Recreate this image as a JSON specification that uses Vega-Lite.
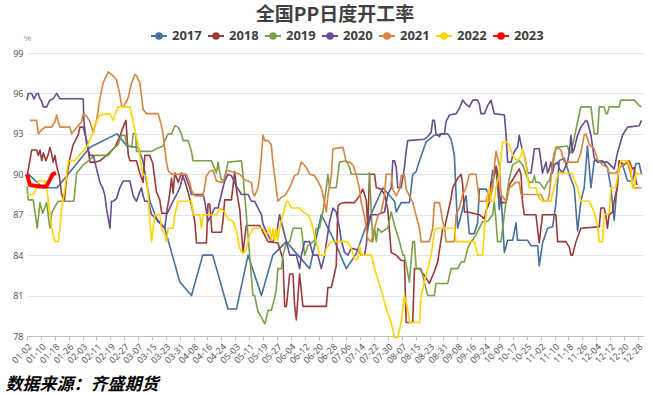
{
"$schema":"https://vega.github.io/schema/vega-lite/v6.json",
"width":616,"height":283,
"autosize":{"type":"none"},
"padding":{"left":27,"top":53,"right":9,"bottom":59},
"background":"white",
"title":{"text":"全国PP日度开工率","fontSize":19,"font":"Noto Sans CJK SC","fontWeight":"bold","color":"#404040","anchor":"middle","frame":"group","offset":2},
"datasets":{
"s2017":[{"x":0,"v":90.1},{"x":9.2,"v":89},{"x":17.3,"v":89},{"x":36.3,"v":92},{"x":51.8,"v":93},{"x":57.6,"v":92.1},{"x":63.9,"v":92},{"x":66.8,"v":91},{"x":70.8,"v":88},{"x":75.4,"v":86.5},{"x":79.4,"v":86},{"x":88.1,"v":82},{"x":94.8,"v":81},{"x":101.3,"v":84},{"x":107,"v":84},{"x":115.8,"v":80},{"x":120.7,"v":80},{"x":127.4,"v":84},{"x":135.1,"v":81},{"x":141.7,"v":84},{"x":149.5,"v":85},{"x":156.1,"v":84},{"x":162.9,"v":83},{"x":169.6,"v":87},{"x":175.4,"v":85.5},{"x":177.3,"v":85},{"x":184,"v":83},{"x":189.7,"v":84.1},{"x":196.4,"v":86.5},{"x":205.1,"v":89},{"x":211.8,"v":88},{"x":212.8,"v":87.2},{"x":215.6,"v":87.9},{"x":220.4,"v":87.9},{"x":222.3,"v":90},{"x":224.3,"v":90.2},{"x":226.2,"v":91},{"x":230,"v":92.4},{"x":234.8,"v":92.9},{"x":239.6,"v":93},{"x":242.5,"v":93},{"x":244.4,"v":92.6},{"x":246.3,"v":91.4},{"x":247.3,"v":88.4},{"x":248.2,"v":86},{"x":250.2,"v":87},{"x":252.1,"v":88},{"x":253,"v":88.4},{"x":254.9,"v":85.6},{"x":257.8,"v":85.6},{"x":259.7,"v":86.4},{"x":260.7,"v":88.9},{"x":264.6,"v":88.9},{"x":266.5,"v":88.4},{"x":268.4,"v":90.3},{"x":269.3,"v":89.9},{"x":270.3,"v":90.6},{"x":272.2,"v":87.4},{"x":273.2,"v":88.4},{"x":275.1,"v":84.2},{"x":277,"v":85.1},{"x":279.9,"v":85.1},{"x":281.8,"v":86.4},{"x":282.7,"v":85.1},{"x":288.5,"v":85.1},{"x":290.5,"v":84.7},{"x":294.3,"v":84.7},{"x":295.2,"v":83.2},{"x":297.1,"v":84.9},{"x":300,"v":86},{"x":302.9,"v":86.1},{"x":304.8,"v":87.8},{"x":306.7,"v":91},{"x":309.6,"v":91.2},{"x":312.5,"v":90},{"x":315.4,"v":89},{"x":317.3,"v":85.8},{"x":319.2,"v":88},{"x":321.1,"v":89},{"x":323,"v":92.1},{"x":325,"v":89},{"x":326.9,"v":91},{"x":331.7,"v":91},{"x":334.5,"v":90.5},{"x":336.5,"v":89},{"x":338.4,"v":86.6},{"x":341.3,"v":91},{"x":343.2,"v":90.7},{"x":346.1,"v":89.5},{"x":348.9,"v":89.5},{"x":350.9,"v":90.8},{"x":352.8,"v":90.8},{"x":354.1,"v":90}],
"s2018":[{"x":0,"v":89.8},{"x":2.7,"v":91.8},{"x":5.6,"v":91.8},{"x":6.5,"v":91.4},{"x":7.5,"v":91.8},{"x":8.5,"v":91},{"x":9.4,"v":91.6},{"x":10.9,"v":91},{"x":12.3,"v":91.5},{"x":13.2,"v":92},{"x":14.2,"v":91.5},{"x":15.1,"v":90.9},{"x":16.1,"v":91.4},{"x":17.1,"v":90.6},{"x":18.6,"v":89.9},{"x":20,"v":88.5},{"x":21.5,"v":88},{"x":22.8,"v":89.7},{"x":24.7,"v":91.2},{"x":26.6,"v":92.2},{"x":29.5,"v":92.9},{"x":30.5,"v":93.5},{"x":32.4,"v":93.5},{"x":34.4,"v":92.5},{"x":36.3,"v":90.9},{"x":39.1,"v":90.9},{"x":42,"v":91},{"x":45.9,"v":91.4},{"x":50.6,"v":92},{"x":53.5,"v":92.8},{"x":55.4,"v":93.5},{"x":57,"v":94},{"x":57.6,"v":92.9},{"x":58.3,"v":91.5},{"x":59.3,"v":91},{"x":63.1,"v":91},{"x":65,"v":90.1},{"x":66.9,"v":89.4},{"x":67.9,"v":91.4},{"x":70.8,"v":91.4},{"x":72.5,"v":90.8},{"x":74.6,"v":88.7},{"x":76.5,"v":88.1},{"x":77.7,"v":87.1},{"x":80.4,"v":87.1},{"x":82.3,"v":88.6},{"x":83.3,"v":89.7},{"x":84.2,"v":88.6},{"x":85.2,"v":90.1},{"x":87.1,"v":89.4},{"x":89,"v":90.1},{"x":90.9,"v":89.5},{"x":92.8,"v":88.7},{"x":94.8,"v":87.7},{"x":96.7,"v":86.5},{"x":97.7,"v":84.9},{"x":103.4,"v":84.9},{"x":104.3,"v":87.8},{"x":105.3,"v":87.8},{"x":106.6,"v":85.7},{"x":112,"v":85.7},{"x":113,"v":86.6},{"x":113.9,"v":88.1},{"x":117.8,"v":88.1},{"x":119.7,"v":90.2},{"x":121,"v":88.6},{"x":122.6,"v":87.4},{"x":123.6,"v":85.7},{"x":124.5,"v":84.2},{"x":126.4,"v":86.2},{"x":134.1,"v":86.2},{"x":136,"v":85.7},{"x":138.9,"v":85},{"x":144.6,"v":84.9},{"x":147.5,"v":83.7},{"x":148.5,"v":80.2},{"x":149.5,"v":80.2},{"x":151.4,"v":82.6},{"x":153.3,"v":82.6},{"x":154.2,"v":80.3},{"x":155.2,"v":79.2},{"x":157.1,"v":82.6},{"x":159,"v":80.2},{"x":172.5,"v":80.2},{"x":173.4,"v":81.6},{"x":175.4,"v":81.6},{"x":178.2,"v":83.2},{"x":179.2,"v":87.6},{"x":180.1,"v":87.8},{"x":183,"v":87.9},{"x":188.8,"v":87.9},{"x":191.6,"v":88.4},{"x":193.5,"v":88.9},{"x":195.5,"v":88.1},{"x":196.4,"v":86.1},{"x":197.4,"v":90},{"x":200.3,"v":90},{"x":201.3,"v":89},{"x":204.1,"v":88.9},{"x":206,"v":88.5},{"x":207.9,"v":87.4},{"x":209.9,"v":84.2},{"x":212.8,"v":84},{"x":215.6,"v":83.6},{"x":217.5,"v":83.6},{"x":218.5,"v":79},{"x":222.3,"v":79},{"x":223.3,"v":83},{"x":226.2,"v":83},{"x":229,"v":82.5},{"x":231.9,"v":81.9},{"x":234.8,"v":82.8},{"x":236.7,"v":83.5},{"x":239.6,"v":86},{"x":240.6,"v":86},{"x":244.4,"v":88.2},{"x":245.3,"v":89},{"x":248.2,"v":89.7},{"x":250.2,"v":90},{"x":251.1,"v":89.2},{"x":252.1,"v":87.2},{"x":254,"v":87.2},{"x":260.7,"v":87},{"x":263.6,"v":86.7},{"x":264.6,"v":87.3},{"x":266.5,"v":87.9},{"x":267.4,"v":89.4},{"x":268.4,"v":89.4},{"x":270.3,"v":90.6},{"x":271.2,"v":90.1},{"x":272.2,"v":88.4},{"x":273.2,"v":87.9},{"x":276.1,"v":87.9},{"x":278,"v":89.2},{"x":281.8,"v":90},{"x":283.7,"v":90.4},{"x":284.7,"v":90},{"x":285.6,"v":87.9},{"x":286.6,"v":87},{"x":293.3,"v":87},{"x":295.2,"v":84.9},{"x":297.1,"v":87},{"x":304.8,"v":87},{"x":305.8,"v":85},{"x":310.6,"v":85},{"x":312.5,"v":84.6},{"x":313.5,"v":84},{"x":314.4,"v":84},{"x":316.4,"v":85},{"x":319.2,"v":86},{"x":329.8,"v":86.1},{"x":330.7,"v":87.5},{"x":332.6,"v":87.5},{"x":333.6,"v":87},{"x":334.5,"v":86},{"x":335.5,"v":87},{"x":337.4,"v":87.2},{"x":338.4,"v":88},{"x":340.3,"v":89.1},{"x":341.3,"v":91},{"x":344.1,"v":90.7},{"x":347,"v":91},{"x":348.9,"v":90.4},{"x":349.9,"v":90.5},{"x":350.9,"v":89.5},{"x":351.6,"v":89.2}],
"s2019":[{"x":0,"v":89.1},{"x":0.7,"v":88.1},{"x":3.6,"v":88.1},{"x":5.9,"v":86},{"x":7.5,"v":87.9},{"x":9,"v":87.1},{"x":11.3,"v":87.9},{"x":13.2,"v":86},{"x":14.2,"v":87.1},{"x":16.1,"v":87.6},{"x":18,"v":88},{"x":27,"v":88},{"x":28.6,"v":90.1},{"x":32.4,"v":90.7},{"x":34.4,"v":90.9},{"x":39.1,"v":91.4},{"x":46.8,"v":91.4},{"x":49.7,"v":91.9},{"x":52.5,"v":92.2},{"x":54.5,"v":92.9},{"x":56.4,"v":92.9},{"x":57.4,"v":92.2},{"x":60.3,"v":92},{"x":61.2,"v":93},{"x":62.6,"v":93},{"x":63.1,"v":91.7},{"x":71.8,"v":91.7},{"x":74.6,"v":91.9},{"x":78.4,"v":92.1},{"x":79.4,"v":92.5},{"x":81.3,"v":93},{"x":83.3,"v":93},{"x":85.2,"v":93.6},{"x":87.1,"v":93.5},{"x":89,"v":93},{"x":90,"v":92.5},{"x":92.8,"v":92.5},{"x":94.8,"v":91.7},{"x":95.7,"v":91},{"x":106.3,"v":91},{"x":108.2,"v":90.4},{"x":109.2,"v":90.1},{"x":110.1,"v":90.9},{"x":111.1,"v":90.1},{"x":112,"v":89.6},{"x":113.9,"v":89.6},{"x":115.8,"v":90.9},{"x":123.6,"v":91},{"x":124.5,"v":89.9},{"x":126.4,"v":87},{"x":128.3,"v":84},{"x":130.2,"v":81},{"x":131.2,"v":81},{"x":133.1,"v":79.8},{"x":135.1,"v":79.4},{"x":137,"v":78.9},{"x":137.9,"v":79.3},{"x":138.9,"v":79.9},{"x":140.8,"v":79.9},{"x":142.7,"v":80.8},{"x":143.7,"v":81.5},{"x":144.6,"v":83},{"x":146.6,"v":83},{"x":147.5,"v":84},{"x":149.5,"v":84.9},{"x":151.4,"v":85},{"x":153.3,"v":86},{"x":158.1,"v":86},{"x":159,"v":85},{"x":160,"v":84},{"x":161.9,"v":84.7},{"x":165.7,"v":85.1},{"x":166.7,"v":86},{"x":168.6,"v":86},{"x":170.5,"v":87.2},{"x":172.5,"v":89},{"x":173.4,"v":90},{"x":174.4,"v":89},{"x":178.2,"v":89},{"x":180.1,"v":90.9},{"x":184,"v":91},{"x":184.9,"v":90.8},{"x":185.9,"v":90.5},{"x":186.9,"v":90},{"x":196.4,"v":90},{"x":197.4,"v":90.1},{"x":198.4,"v":87.2},{"x":199.3,"v":85},{"x":200.3,"v":86},{"x":201.3,"v":85},{"x":202.2,"v":86},{"x":204.1,"v":85.7},{"x":207.9,"v":86},{"x":209.9,"v":87.2},{"x":211.8,"v":86.2},{"x":214.7,"v":85},{"x":216.6,"v":84},{"x":217.5,"v":84},{"x":220.4,"v":82},{"x":222.3,"v":85},{"x":223.3,"v":85},{"x":224.3,"v":83},{"x":227.1,"v":83},{"x":229,"v":82},{"x":230.9,"v":81},{"x":234.8,"v":81},{"x":235.7,"v":81.9},{"x":242.5,"v":81.9},{"x":244.4,"v":83},{"x":248.2,"v":83},{"x":250.2,"v":83.5},{"x":252.1,"v":83.5},{"x":254,"v":84.5},{"x":255.9,"v":85},{"x":258.8,"v":85.5},{"x":260.7,"v":86},{"x":262.6,"v":86.5},{"x":265.5,"v":86.5},{"x":268.4,"v":87},{"x":269.3,"v":88},{"x":270.3,"v":86.5},{"x":271.2,"v":85},{"x":273.2,"v":85},{"x":275.1,"v":87},{"x":277,"v":88.9},{"x":278,"v":89.7},{"x":279.9,"v":90.7},{"x":283.7,"v":91},{"x":285.6,"v":90.7},{"x":287.6,"v":90},{"x":289.5,"v":89.4},{"x":291.4,"v":89.4},{"x":292.4,"v":89.9},{"x":293.3,"v":89.4},{"x":295.2,"v":89.4},{"x":298.1,"v":88.9},{"x":300,"v":89.4},{"x":301,"v":89.5},{"x":302.9,"v":90.5},{"x":304.8,"v":92},{"x":311.5,"v":92.1},{"x":312.5,"v":91.6},{"x":313.5,"v":91.6},{"x":315.4,"v":92.7},{"x":317.3,"v":93.9},{"x":319.2,"v":95},{"x":325,"v":95},{"x":326.9,"v":93},{"x":328.8,"v":93},{"x":329.8,"v":95},{"x":332.6,"v":95},{"x":333.6,"v":94.5},{"x":334.5,"v":94.5},{"x":335.5,"v":95},{"x":341.3,"v":95},{"x":342.2,"v":95.5},{"x":349.9,"v":95.5},{"x":352.8,"v":95.1},{"x":354.1,"v":95}],
"s2020":[{"x":0,"v":95.5},{"x":0.7,"v":96},{"x":2.7,"v":96},{"x":4,"v":95.6},{"x":5.6,"v":96},{"x":6.5,"v":96},{"x":7.5,"v":95.6},{"x":8.5,"v":95.4},{"x":9.4,"v":95},{"x":11.3,"v":95},{"x":13.2,"v":95.5},{"x":15.1,"v":95.6},{"x":17.1,"v":96},{"x":19,"v":95.6},{"x":31.5,"v":95.6},{"x":32.4,"v":95.6},{"x":32.8,"v":93.9},{"x":34.4,"v":92.2},{"x":36.3,"v":91.4},{"x":38.2,"v":91.4},{"x":40.1,"v":90.4},{"x":42,"v":89.4},{"x":43.9,"v":88.9},{"x":44.9,"v":88.4},{"x":45.9,"v":87.4},{"x":47.8,"v":86},{"x":48.7,"v":88},{"x":49.7,"v":88},{"x":51.6,"v":88.2},{"x":53.5,"v":89},{"x":55.4,"v":89.5},{"x":59.3,"v":89.5},{"x":61.2,"v":88.4},{"x":63.1,"v":88},{"x":65,"v":88.7},{"x":66,"v":89},{"x":66.9,"v":88.4},{"x":67.9,"v":88},{"x":69.8,"v":88},{"x":71.8,"v":87},{"x":73.7,"v":86.8},{"x":77.5,"v":86.3},{"x":79.4,"v":86},{"x":80.4,"v":87},{"x":82.3,"v":87.5},{"x":84.2,"v":88},{"x":86.2,"v":88.5},{"x":88.1,"v":89},{"x":90,"v":90},{"x":90.9,"v":90},{"x":93.8,"v":89},{"x":94.8,"v":88.5},{"x":101.5,"v":88.5},{"x":102.4,"v":88},{"x":104.3,"v":86.5},{"x":106.3,"v":87},{"x":108.2,"v":87.5},{"x":110.1,"v":87.5},{"x":112,"v":88.5},{"x":113.9,"v":89.5},{"x":115.8,"v":90},{"x":117.8,"v":89.9},{"x":120.7,"v":89.1},{"x":123.6,"v":88.5},{"x":127.4,"v":88.5},{"x":129.3,"v":88},{"x":131.2,"v":88},{"x":133.1,"v":87.5},{"x":135.1,"v":87},{"x":136,"v":86.3},{"x":138.9,"v":85.5},{"x":140.8,"v":85},{"x":141.7,"v":85},{"x":143.7,"v":85.5},{"x":145.6,"v":87},{"x":147.5,"v":86},{"x":149.5,"v":85},{"x":151.4,"v":84},{"x":155.2,"v":84},{"x":157.1,"v":83},{"x":158.1,"v":84},{"x":160,"v":85},{"x":162.9,"v":85},{"x":164.8,"v":84},{"x":167.6,"v":84},{"x":169.6,"v":83},{"x":171.5,"v":84},{"x":174.4,"v":86.5},{"x":176.3,"v":87.5},{"x":178.2,"v":87.2},{"x":180.1,"v":86},{"x":181.1,"v":85.1},{"x":183,"v":84.2},{"x":184.9,"v":84},{"x":186.9,"v":84.5},{"x":190.7,"v":84.4},{"x":192.6,"v":84},{"x":194.5,"v":84},{"x":195.5,"v":84.7},{"x":196.4,"v":86},{"x":198.4,"v":87},{"x":202.2,"v":87},{"x":206,"v":87.2},{"x":207.9,"v":88.5},{"x":209.9,"v":89},{"x":210.8,"v":91},{"x":211.8,"v":91},{"x":212.8,"v":90.5},{"x":213.7,"v":89},{"x":215.6,"v":89},{"x":217.5,"v":90.5},{"x":218.5,"v":91.7},{"x":219.4,"v":92.5},{"x":229,"v":92.6},{"x":230.9,"v":92.8},{"x":232.9,"v":93.1},{"x":233.8,"v":94},{"x":234.8,"v":94},{"x":235.7,"v":93},{"x":237.7,"v":92.8},{"x":238.7,"v":93},{"x":240.6,"v":93},{"x":241.5,"v":93.9},{"x":243.5,"v":94.4},{"x":247.3,"v":94.5},{"x":249.2,"v":94.9},{"x":251.1,"v":95.5},{"x":253,"v":95.2},{"x":254.9,"v":95},{"x":256.9,"v":95.5},{"x":259.7,"v":95.5},{"x":260.7,"v":95.2},{"x":261.6,"v":94.5},{"x":263.6,"v":94.5},{"x":265.5,"v":95.1},{"x":267.4,"v":95.5},{"x":269.3,"v":94.5},{"x":275.1,"v":94.4},{"x":276.1,"v":92.9},{"x":277,"v":90.9},{"x":279,"v":90.9},{"x":279.9,"v":91.4},{"x":281.8,"v":91.9},{"x":282.7,"v":92},{"x":283.7,"v":92.9},{"x":284.7,"v":92.2},{"x":286.6,"v":91.4},{"x":288.5,"v":90.1},{"x":290.5,"v":90.1},{"x":292.4,"v":91.9},{"x":295.2,"v":91.9},{"x":297.1,"v":90.1},{"x":299.1,"v":90.9},{"x":300,"v":90.1},{"x":301,"v":90.4},{"x":301.9,"v":90.9},{"x":302.9,"v":90.1},{"x":303.8,"v":90.7},{"x":305.8,"v":90.9},{"x":306.7,"v":90.4},{"x":308.7,"v":90.1},{"x":311.5,"v":90.9},{"x":312.5,"v":91.6},{"x":313.5,"v":92.9},{"x":314.4,"v":91.6},{"x":315.4,"v":91.9},{"x":317.3,"v":92.9},{"x":319.2,"v":93.5},{"x":322.1,"v":94},{"x":323,"v":93.9},{"x":325,"v":92.9},{"x":326.9,"v":91.2},{"x":328.8,"v":90.9},{"x":334.5,"v":90.9},{"x":338.4,"v":90.4},{"x":340.3,"v":91.6},{"x":343.2,"v":92.9},{"x":346.1,"v":93.5},{"x":352.8,"v":93.6},{"x":354.1,"v":94}],
"s2021":[{"x":1.7,"v":94},{"x":5.6,"v":94},{"x":6.5,"v":93},{"x":8.5,"v":93.3},{"x":10.4,"v":93.5},{"x":14.2,"v":93.5},{"x":16.1,"v":93.9},{"x":17.1,"v":94.4},{"x":18,"v":93.9},{"x":19,"v":93.5},{"x":24.7,"v":93.5},{"x":25.7,"v":93},{"x":27.6,"v":93.3},{"x":29.5,"v":93.6},{"x":31.5,"v":93.9},{"x":32.4,"v":94.5},{"x":34.4,"v":94.3},{"x":36.3,"v":93.9},{"x":38.2,"v":93.1},{"x":40.1,"v":94},{"x":42,"v":95.6},{"x":43.9,"v":96.8},{"x":46.8,"v":97.6},{"x":49.7,"v":97.3},{"x":51.6,"v":97},{"x":53.5,"v":95.9},{"x":54.5,"v":95.1},{"x":55.4,"v":95},{"x":57.4,"v":95.4},{"x":58.3,"v":95.7},{"x":60.3,"v":96.8},{"x":62.2,"v":97.4},{"x":63.1,"v":97.3},{"x":65,"v":96.8},{"x":66,"v":95.8},{"x":66.9,"v":94.8},{"x":68.9,"v":94.5},{"x":75.6,"v":94.5},{"x":77.5,"v":93.6},{"x":78.4,"v":93},{"x":79.4,"v":91.9},{"x":80.4,"v":90.9},{"x":81.3,"v":90.3},{"x":83.3,"v":90},{"x":91.9,"v":90},{"x":93.8,"v":89.4},{"x":94.8,"v":88.8},{"x":96.7,"v":88.4},{"x":101.5,"v":88.4},{"x":102.4,"v":89.1},{"x":103.4,"v":89.9},{"x":105.3,"v":90.2},{"x":107.2,"v":90.3},{"x":109.2,"v":89.5},{"x":113,"v":89.4},{"x":114.9,"v":90.3},{"x":117.8,"v":90.2},{"x":122.6,"v":90},{"x":125.5,"v":89.6},{"x":129.3,"v":89.4},{"x":130.2,"v":88.6},{"x":131.2,"v":88.4},{"x":133.1,"v":89},{"x":134.1,"v":89.9},{"x":135.1,"v":91.4},{"x":136,"v":92.9},{"x":137,"v":92.5},{"x":138.9,"v":92.5},{"x":140.8,"v":92.2},{"x":141.7,"v":90.9},{"x":142.7,"v":89.9},{"x":144.6,"v":88},{"x":146.6,"v":88.3},{"x":148.5,"v":88.4},{"x":151.4,"v":89},{"x":154.2,"v":89.9},{"x":156.1,"v":90},{"x":158.1,"v":90.9},{"x":159,"v":90.8},{"x":161,"v":90.5},{"x":162.9,"v":90},{"x":165.7,"v":89.9},{"x":167.6,"v":89.5},{"x":169.6,"v":89},{"x":171.5,"v":87.9},{"x":172.5,"v":87.2},{"x":173.4,"v":88.4},{"x":175.4,"v":89.9},{"x":176.3,"v":91.9},{"x":182.1,"v":92},{"x":184,"v":90.9},{"x":185.9,"v":90.9},{"x":187.8,"v":90.7},{"x":189.7,"v":90},{"x":191.6,"v":88.9},{"x":192.6,"v":87.9},{"x":194.5,"v":86.9},{"x":195.5,"v":86},{"x":196.4,"v":85.2},{"x":198.4,"v":85},{"x":200.3,"v":86},{"x":202.2,"v":86.9},{"x":204.1,"v":87.2},{"x":206,"v":88.4},{"x":207,"v":90},{"x":209.9,"v":90},{"x":210.8,"v":88.9},{"x":212.8,"v":88.4},{"x":214.7,"v":88.9},{"x":215.6,"v":89.9},{"x":217.5,"v":90},{"x":218.5,"v":88.9},{"x":220.4,"v":88.4},{"x":222.3,"v":87.9},{"x":224.3,"v":86.9},{"x":226.2,"v":86},{"x":227.1,"v":85},{"x":231.9,"v":85},{"x":233.8,"v":86},{"x":234.8,"v":87.9},{"x":237.7,"v":87.9},{"x":238.7,"v":87.2},{"x":239.6,"v":86.5},{"x":240.6,"v":86},{"x":241.5,"v":85},{"x":246.3,"v":85},{"x":247.3,"v":87},{"x":249.2,"v":87.5},{"x":251.1,"v":88.5},{"x":253,"v":89},{"x":254.9,"v":90},{"x":258.8,"v":90},{"x":260.7,"v":88},{"x":264.6,"v":88},{"x":265.5,"v":88.5},{"x":266.5,"v":88},{"x":268.4,"v":89},{"x":269.3,"v":90.5},{"x":270.3,"v":91.7},{"x":272.2,"v":90.7},{"x":273.2,"v":88.5},{"x":276.1,"v":88},{"x":278,"v":89},{"x":281.8,"v":89.4},{"x":283.7,"v":89.4},{"x":284.7,"v":88.5},{"x":296.2,"v":88.5},{"x":298.1,"v":88},{"x":300,"v":88},{"x":301,"v":88.5},{"x":302.9,"v":90.9},{"x":303.8,"v":91.6},{"x":305.8,"v":92},{"x":307.7,"v":91.8},{"x":309.6,"v":90.9},{"x":317.3,"v":90.9},{"x":319.2,"v":91.6},{"x":321.1,"v":92.9},{"x":322.1,"v":93},{"x":324,"v":92.2},{"x":326.9,"v":91.9},{"x":328.8,"v":91.1},{"x":331.7,"v":90.7},{"x":334.5,"v":90.5},{"x":335.5,"v":90.1},{"x":339.3,"v":90.1},{"x":343.2,"v":90.7},{"x":346.1,"v":90.9},{"x":348,"v":90},{"x":348.9,"v":89.3},{"x":349.9,"v":89},{"x":354.1,"v":89}],
"s2022":[{"x":0,"v":88.5},{"x":3.6,"v":88.5},{"x":5.6,"v":89},{"x":6.5,"v":89.5},{"x":10.4,"v":89.5},{"x":11.3,"v":89.1},{"x":12.3,"v":88},{"x":14.2,"v":86},{"x":16.1,"v":85},{"x":18,"v":85},{"x":19,"v":86},{"x":20,"v":87.5},{"x":21.9,"v":89},{"x":23.8,"v":91},{"x":27.6,"v":91},{"x":30.5,"v":91.5},{"x":32.4,"v":91.7},{"x":34.4,"v":92},{"x":36.3,"v":92.6},{"x":38.2,"v":93.1},{"x":39.1,"v":93.7},{"x":42,"v":94.4},{"x":47.8,"v":94.5},{"x":49.7,"v":94},{"x":50.6,"v":94.4},{"x":52.5,"v":95},{"x":59.3,"v":95},{"x":60.3,"v":94.4},{"x":62.2,"v":93.2},{"x":64.1,"v":92.2},{"x":66,"v":90.5},{"x":66.9,"v":90},{"x":68.9,"v":89.8},{"x":69.8,"v":88.5},{"x":70.8,"v":86.5},{"x":71.8,"v":85},{"x":72.7,"v":86},{"x":73.7,"v":87},{"x":76.5,"v":87},{"x":77.5,"v":86},{"x":79.4,"v":85.5},{"x":80.4,"v":85},{"x":81.3,"v":86},{"x":84.2,"v":86},{"x":85.2,"v":87},{"x":87.1,"v":88},{"x":94.8,"v":88},{"x":95.7,"v":87},{"x":99.6,"v":87},{"x":100.5,"v":86},{"x":101.5,"v":87},{"x":109.2,"v":87},{"x":111.1,"v":87.5},{"x":113.9,"v":87.2},{"x":115.8,"v":86.7},{"x":118.7,"v":86.5},{"x":120.7,"v":85.8},{"x":122.6,"v":84.5},{"x":124.5,"v":84.1},{"x":126.4,"v":84.5},{"x":128.3,"v":85.5},{"x":130.2,"v":86},{"x":136,"v":86},{"x":137.9,"v":85.5},{"x":139.9,"v":86},{"x":140.8,"v":85.1},{"x":141.7,"v":86},{"x":142.7,"v":85},{"x":143.7,"v":86},{"x":144.6,"v":85.1},{"x":145.6,"v":86},{"x":147.5,"v":87},{"x":149.5,"v":88},{"x":150.4,"v":88},{"x":152.3,"v":87.5},{"x":157.1,"v":87.5},{"x":159,"v":87.2},{"x":161.9,"v":87},{"x":163.8,"v":86.5},{"x":165.7,"v":85.5},{"x":167.6,"v":84.5},{"x":168.6,"v":84},{"x":171.5,"v":84},{"x":172.5,"v":84.5},{"x":175.4,"v":85},{"x":184.9,"v":85},{"x":186.9,"v":84.5},{"x":188.8,"v":83.7},{"x":190.7,"v":83.7},{"x":191.6,"v":84.7},{"x":192.6,"v":84},{"x":198.4,"v":84},{"x":200.3,"v":83},{"x":205.1,"v":81},{"x":207,"v":80},{"x":209.9,"v":79},{"x":211.8,"v":77.9},{"x":213.7,"v":77.9},{"x":215.6,"v":79},{"x":217.5,"v":81},{"x":219.4,"v":80},{"x":220.4,"v":79},{"x":226.2,"v":79},{"x":227.1,"v":81},{"x":229,"v":82},{"x":232.9,"v":84},{"x":234.8,"v":85.7},{"x":235.7,"v":86},{"x":246.3,"v":86},{"x":247.3,"v":85},{"x":257.8,"v":85},{"x":259.7,"v":84},{"x":262.6,"v":84},{"x":263.6,"v":86},{"x":264.6,"v":87},{"x":265.5,"v":88.5},{"x":266.5,"v":89},{"x":267.4,"v":88},{"x":269.3,"v":88},{"x":270.3,"v":89},{"x":272.2,"v":90},{"x":274.1,"v":92.4},{"x":276.1,"v":92.4},{"x":278,"v":92.2},{"x":279.9,"v":91.4},{"x":282.7,"v":91},{"x":284.7,"v":91.4},{"x":285.6,"v":91.9},{"x":287.6,"v":90.7},{"x":289.5,"v":89},{"x":293.3,"v":89},{"x":295.2,"v":88.2},{"x":297.1,"v":88},{"x":301.9,"v":88},{"x":303.8,"v":89},{"x":305.8,"v":89.9},{"x":306.7,"v":90.1},{"x":313.5,"v":90.1},{"x":314.4,"v":89.9},{"x":317.3,"v":89},{"x":319.2,"v":88},{"x":324,"v":88},{"x":326.9,"v":87.2},{"x":328.8,"v":86.2},{"x":329.8,"v":85},{"x":331.7,"v":85},{"x":332.6,"v":87},{"x":335.5,"v":87.1},{"x":336.5,"v":89},{"x":339.3,"v":89},{"x":341.3,"v":90.5},{"x":342.2,"v":91},{"x":346.1,"v":91},{"x":348,"v":90.5},{"x":348.9,"v":89},{"x":349.9,"v":89},{"x":350.9,"v":90.1},{"x":354.1,"v":90}],
"s2023":[{"x":0,"v":90},{"x":1.7,"v":89.2},{"x":7.5,"v":89.1},{"x":11.2,"v":89.1},{"x":13.2,"v":89.6},{"x":14.7,"v":90},{"x":16.7,"v":90.1}]
},
"encoding":{
"x":{"field":"x","type":"quantitative","scale":{"domain":[0,355],"nice":false,"zero":false},
"axis":{"values":[0,8,16,24,32,40,48,56,64,72,80,88,96,104,112,120,128,136,144,152,160,168,176,184,192,200,208,216,224,232,240,248,256,264,272,280,288,296,304,312,320,328,336,344,352],
"labelExpr":"['01-02','01-10','01-18','01-26','02-03','02-11','02-19','02-27','03-07','03-15','03-23','03-31','04-08','04-16','04-24','05-03','05-11','05-19','05-27','06-04','06-12','06-20','06-28','07-06','07-14','07-22','07-30','08-07','08-15','08-23','08-31','09-08','09-16','09-24','10-09','10-17','10-25','11-02','11-10','11-18','11-26','12-04','12-12','12-20','12-28'][round(datum.value/8)]",
"labelAngle":-45,"labelFontSize":9,"labelColor":"#595959","labelFont":"Noto Sans","labelPadding":2,"labelOverlap":false,"labelFlush":false,"labelBound":false,
"grid":false,"domainColor":"#BFBFBF","tickColor":"#BFBFBF","tickSize":4,
"title":"数据来源：齐盛期货","titleFont":"Noto Sans CJK SC","titleFontSize":17,"titleFontWeight":"bold","titleFontStyle":"italic","titleColor":"#000000","titleAlign":"left","titleAnchor":"start","titleBaseline":"middle","titleX":-22,"titleY":48}},
"y":{"field":"v","type":"quantitative","scale":{"domain":[78,99],"nice":false,"zero":false},
"axis":{"values":[78,81,84,87,90,93,96,99],"labelFontSize":9,"labelColor":"#595959","labelFont":"Noto Sans","labelPadding":4,"domain":false,"ticks":false,"gridColor":"#E4E4EF","gridWidth":1,
"title":"%","titleAngle":0,"titleFontSize":8,"titleFontWeight":"normal","titleColor":"#8C8C8C","titleAlign":"center","titleBaseline":"middle","titleX":0,"titleY":-15}}
},
"layer":[
{"data":{"name":"s2017"},"mark":{"type":"line","strokeWidth":1.6,"strokeJoin":"round"},"encoding":{"color":{"datum":"2017","type":"nominal","scale":{"domain":["2017","2018","2019","2020","2021","2022","2023"],"range":["#44719F","#9B3B39","#7BA04A","#674C8F","#D7853F","#FFD400","#FF0000"]},
"legend":{"orient":"none","legendX":123,"legendY":-26,"direction":"horizontal","columns":7,"title":null,"padding":0,"labelFont":"Noto Sans","labelFontSize":13,"labelFontWeight":"bold","labelColor":"#404040","labelOffset":4,"columnPadding":2,"symbolType":"M-1,0L1,0M0.35,0A0.35,0.35,0,1,1,-0.35,0A0.35,0.35,0,1,1,0.35,0Z","symbolSize":256,"symbolStrokeWidth":2,
"encode":{"symbols":{"update":{"fill":{"scale":"color","field":"value"},"fillOpacity":{"value":1}}}}}}}},
{"data":{"name":"s2018"},"mark":{"type":"line","strokeWidth":1.6,"strokeJoin":"round"},"encoding":{"color":{"datum":"2018","type":"nominal"}}},
{"data":{"name":"s2019"},"mark":{"type":"line","strokeWidth":1.6,"strokeJoin":"round"},"encoding":{"color":{"datum":"2019","type":"nominal"}}},
{"data":{"name":"s2020"},"mark":{"type":"line","strokeWidth":1.6,"strokeJoin":"round"},"encoding":{"color":{"datum":"2020","type":"nominal"}}},
{"data":{"name":"s2021"},"mark":{"type":"line","strokeWidth":1.6,"strokeJoin":"round"},"encoding":{"color":{"datum":"2021","type":"nominal"}}},
{"data":{"name":"s2022"},"mark":{"type":"line","strokeWidth":1.6,"strokeJoin":"round"},"encoding":{"color":{"datum":"2022","type":"nominal"}}},
{"data":{"name":"s2023"},"mark":{"type":"line","strokeWidth":4,"strokeJoin":"round"},"encoding":{"color":{"datum":"2023","type":"nominal"}}}
],
"config":{"view":{"stroke":null}}
}
